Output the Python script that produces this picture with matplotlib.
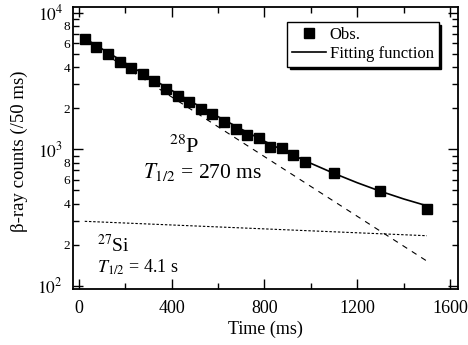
import numpy as np
import matplotlib.pyplot as plt
from matplotlib.ticker import LogLocator, FuncFormatter, MultipleLocator

plt.rcParams['font.family'] = ['Liberation Serif', 'DejaVu Serif']
plt.rcParams['mathtext.fontset'] = 'stix'

# observed beta-ray counts (per 50 ms bin)
obs_t = [25, 75, 125, 175, 225, 275, 325, 375, 425, 475, 525, 575, 625, 675,
         725, 775, 825, 875, 925, 975, 1100, 1300, 1500]
obs_counts = [6390, 5640, 4985, 4357, 3958, 3560, 3145, 2778, 2443, 2208, 1963,
              1804, 1593, 1401, 1266, 1204, 1034, 1022, 908, 811, 674, 495, 367]

# fitting function
fit_t = [25, 100, 200, 300, 400, 500, 600, 700, 800, 900, 1000, 1100, 1200,
         1300, 1400, 1500]
fit_counts = [6497, 5427, 4282, 3395, 2697, 2157, 1733, 1404, 1146, 946, 789,
              666, 569, 493, 433, 386]

# components
p28_t = [25, 1500]
p28_counts = [6200, 152]
si27_t = [25, 1500]
si27_counts = [297, 233]

fig = plt.figure(figsize=(4.68, 3.45), dpi=100)
ax = fig.add_axes([0.1553, 0.1614, 0.8227, 0.8174])

ax.plot(p28_t, p28_counts, color='k', lw=0.8, dashes=(5, 5))
ax.plot(si27_t, si27_counts, color='k', lw=0.8, dashes=(2.2, 1.6))
fit_line, = ax.plot(fit_t, fit_counts, color='k', lw=1.2, label='Fitting function')
obs_pts, = ax.plot(obs_t, obs_counts, 's', color='k', ms=6.8, label='Obs.', zorder=5)

ax.set_yscale('log')
ax.set_xlim(-27, 1633)
ax.set_ylim(94.4, 10950)

ax.xaxis.set_major_locator(MultipleLocator(400))
ax.xaxis.set_minor_locator(MultipleLocator(200))
ax.yaxis.set_major_locator(LogLocator(base=10, numticks=10))
ax.yaxis.set_minor_locator(LogLocator(base=10, subs=np.arange(2, 10), numticks=10))
ax.yaxis.set_major_formatter(FuncFormatter(lambda v, p: r'$10^{%d}$' % round(np.log10(v))))


def minor_fmt(v, pos):
    m = round(v / 10 ** np.floor(np.log10(v) + 1e-9))
    return str(m) if m in (2, 4, 6, 8) else ''


ax.yaxis.set_minor_formatter(FuncFormatter(minor_fmt))

ax.tick_params(which='both', direction='in', top=True, right=True, width=1)
ax.tick_params(which='major', length=7)
ax.tick_params(which='minor', length=4)
ax.tick_params(axis='x', which='major', labelsize=13, pad=8)
ax.tick_params(axis='y', which='major', labelsize=12.5, pad=7)
ax.tick_params(axis='y', which='minor', labelsize=9.5, pad=2)
for s in ax.spines.values():
    s.set_linewidth(1.3)

ax.set_xlabel('Time (ms)', fontsize=13, labelpad=2)
ax.set_ylabel('β-ray counts (/50 ms)', fontsize=13.5)
ax.yaxis.set_label_coords(-0.117, 0.49)

ax.text(0.250, 0.483, r'$^{28}$P', transform=ax.transAxes, fontsize=16)
ax.text(0.1826, 0.3947, r'$T_{\rm 1/2}$ = 270 ms', transform=ax.transAxes, fontsize=15.5)
ax.text(0.063, 0.132, r'$^{27}$Si', transform=ax.transAxes, fontsize=14)
ax.text(0.063, 0.058, r'$T_{\rm 1/2}$ = 4.1 s', transform=ax.transAxes, fontsize=13)

leg = ax.legend(handles=[obs_pts, fit_line], loc='upper right', bbox_to_anchor=(0.951, 0.947),
                borderaxespad=0, fontsize=12, fancybox=False, framealpha=1,
                edgecolor='k', handlelength=2.0, handletextpad=0.25,
                borderpad=0.3, labelspacing=0.15,
                shadow={'color': 'k', 'alpha': 1, 'ox': 1.8, 'oy': -1.8})
leg.get_frame().set_linewidth(1.0)

fig.savefig('out.png', dpi=100)
